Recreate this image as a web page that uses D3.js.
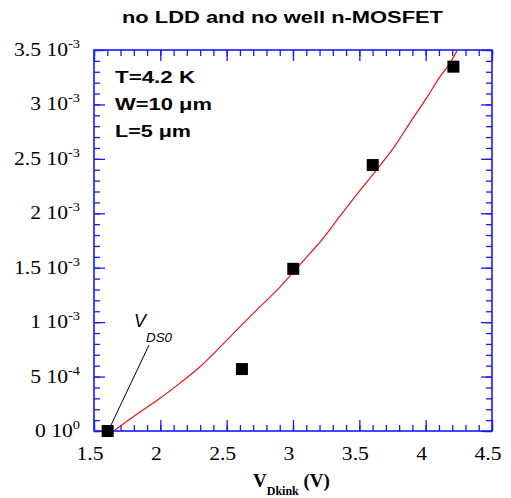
<!DOCTYPE html>
<html>
<head>
<meta charset="utf-8">
<script src="https://cdn.jsdelivr.net/npm/d3@7"></script>
<style>
  body { margin: 0; background: #fff; }
  svg { display: block; }
</style>
</head>
<body>
<svg id="chart" width="511" height="498"></svg>
<script>
// Measured kink voltages and the corresponding drain current values
const pointV = [1.603, 2.615, 3.002, 3.601, 4.209];
const pointI = [0, 0.569e-3, 1.49e-3, 2.443e-3, 3.347e-3];

// Fitted curve (red)
const curveV = [1.658, 1.796, 1.997, 2.148, 2.299, 2.450, 2.575, 2.726, 2.889, 2.977,
                3.128, 3.216, 3.354, 3.517, 3.618, 3.755, 3.881, 4.007, 4.107, 4.183, 4.238];
const curveI = [0.009e-3, 0.131e-3, 0.300e-3, 0.440e-3, 0.590e-3, 0.770e-3, 0.927e-3, 1.111e-3,
                1.305e-3, 1.425e-3, 1.632e-3, 1.754e-3, 1.974e-3, 2.229e-3, 2.381e-3, 2.596e-3,
                2.830e-3, 3.060e-3, 3.253e-3, 3.377e-3, 3.499e-3];

// Axis ticks and labels
const xTicks = [1.5, 2, 2.5, 3, 3.5, 4, 4.5];
const xTickLabels = ["1.5", "2", "2.5", "3", "3.5", "4", "4.5"];
const yTicks = [0, 0.5e-3, 1e-3, 1.5e-3, 2e-3, 2.5e-3, 3e-3, 3.5e-3];
const yTickMantissa = ["0", "5", "1", "1.5", "2", "2.5", "3", "3.5"];
const yTickExponent = ["0", "-4", "-3", "-3", "-3", "-3", "-3", "-3"];

const infoLines = ["T=4.2 K", "W=10 \u03bcm", "L=5 \u03bcm"];
const titleText = "no LDD and no well n-MOSFET";

const svg = d3.select("#chart");
const plotL = 94, plotR = 492, plotT = 50, plotB = 431;

const x = d3.scaleLinear().domain([1.5, 4.5]).range([plotL, plotR]);
const y = d3.scaleLinear().domain([0, 3.5e-3]).range([plotB, plotT]);

const axisColor = "#1a1aff";
const serif = "'Liberation Serif', 'Times New Roman', serif";
const sans = "'Liberation Sans', Arial, sans-serif";

// Minor and major ticks, pointing inward on all four sides
const xMinor = d3.range(15, 46).map(d => d / 10);
const yMinor = d3.range(0, 36).map(d => d * 1e-4);

function styleAxis(g) {
  g.select(".domain").remove();
  g.selectAll(".tick line").attr("stroke", axisColor).attr("stroke-width", 1.3);
  g.selectAll(".tick text").remove();
}

const axes = [
  [d3.axisBottom(x).tickValues(xMinor).tickSize(-6), `translate(0,${plotB})`],
  [d3.axisBottom(x).tickValues(xTicks).tickSize(-11), `translate(0,${plotB})`],
  [d3.axisTop(x).tickValues(xMinor).tickSize(-6), `translate(0,${plotT})`],
  [d3.axisTop(x).tickValues(xTicks).tickSize(-11), `translate(0,${plotT})`],
  [d3.axisLeft(y).tickValues(yMinor).tickSize(-6), `translate(${plotL},0)`],
  [d3.axisLeft(y).tickValues(yTicks).tickSize(-11), `translate(${plotL},0)`],
  [d3.axisRight(y).tickValues(yMinor).tickSize(-6), `translate(${plotR},0)`],
  [d3.axisRight(y).tickValues(yTicks).tickSize(-11), `translate(${plotR},0)`]
];
axes.forEach(([ax, tr]) => {
  svg.append("g").attr("transform", tr).call(ax).call(styleAxis);
});

// Plot frame
svg.append("rect")
  .attr("x", plotL).attr("y", plotT)
  .attr("width", plotR - plotL).attr("height", plotB - plotT)
  .attr("fill", "none").attr("stroke", axisColor).attr("stroke-width", 1.6);

// X tick labels
svg.append("g").selectAll("text")
  .data(xTicks)
  .join("text")
  .attr("transform", d => `translate(${x(d) - 4},460) scale(1.2,1)`)
  .attr("text-anchor", "middle")
  .attr("font-family", serif)
  .attr("font-size", 18)
  .attr("fill", "#000")
  .text((d, i) => xTickLabels[i]);

// Y tick labels: mantissa, "10" and a raised exponent
const yLab = svg.append("g").selectAll("text")
  .data(yTicks)
  .join("text")
  .attr("transform", d => `translate(80,${y(d) + 6}) scale(1.2,1)`)
  .attr("text-anchor", "end")
  .attr("font-family", serif)
  .attr("font-size", 18)
  .attr("fill", "#000");
yLab.append("tspan").text((d, i) => yTickMantissa[i] + " 10");
yLab.append("tspan").attr("dy", -8).attr("font-size", 12).text((d, i) => yTickExponent[i]);

// Fitted curve
const line = d3.line().curve(d3.curveCatmullRom).x(d => x(d[0])).y(d => y(d[1]));
svg.append("path")
  .datum(curveV.map((v, i) => [v, curveI[i]]))
  .attr("d", line)
  .attr("fill", "none")
  .attr("stroke", "#ee1111")
  .attr("stroke-width", 1.2);

// V_DS0 annotation
svg.append("line")
  .attr("x1", 149).attr("y1", 345)
  .attr("x2", x(pointV[0]) + 2).attr("y2", y(pointI[0]) - 3)
  .attr("stroke", "#000").attr("stroke-width", 1);
svg.append("text")
  .attr("x", 134).attr("y", 327)
  .attr("font-family", sans).attr("font-style", "italic")
  .attr("font-size", 18).text("V");
svg.append("text")
  .attr("x", 146).attr("y", 342)
  .attr("font-family", sans).attr("font-style", "italic")
  .attr("font-size", 12)
  .attr("textLength", 26).attr("lengthAdjust", "spacingAndGlyphs")
  .text("DS0");

// Measured points
const sq = 12;
svg.append("g").selectAll("rect")
  .data(pointV.map((v, i) => [v, pointI[i]]))
  .join("rect")
  .attr("x", d => x(d[0]) - sq / 2)
  .attr("y", d => y(d[1]) - sq / 2)
  .attr("width", sq).attr("height", sq)
  .attr("fill", "#000");

// Device conditions
const infoWidths = [80, 97, 76];
svg.append("g").selectAll("text")
  .data(infoLines)
  .join("text")
  .attr("x", 115)
  .attr("y", (d, i) => 83 + i * 27)
  .attr("font-family", sans)
  .attr("font-weight", "bold")
  .attr("font-size", 17)
  .attr("textLength", (d, i) => infoWidths[i])
  .attr("lengthAdjust", "spacingAndGlyphs")
  .text(d => d);

// Title
svg.append("text")
  .attr("x", 122).attr("y", 23)
  .attr("font-family", sans)
  .attr("font-weight", "bold")
  .attr("font-size", 16)
  .attr("textLength", 321)
  .attr("lengthAdjust", "spacingAndGlyphs")
  .text(titleText);

// X axis title: V with subscript Dkink, then (V)
const xt = svg.append("text")
  .attr("x", 253).attr("y", 487)
  .attr("font-family", serif)
  .attr("font-weight", "bold")
  .attr("font-size", 19);
xt.append("tspan").text("V");
xt.append("tspan").attr("dy", 8).attr("font-size", 12).text("Dkink");
xt.append("tspan").attr("dy", -8).text(" (V)");
</script>
</body>
</html>
